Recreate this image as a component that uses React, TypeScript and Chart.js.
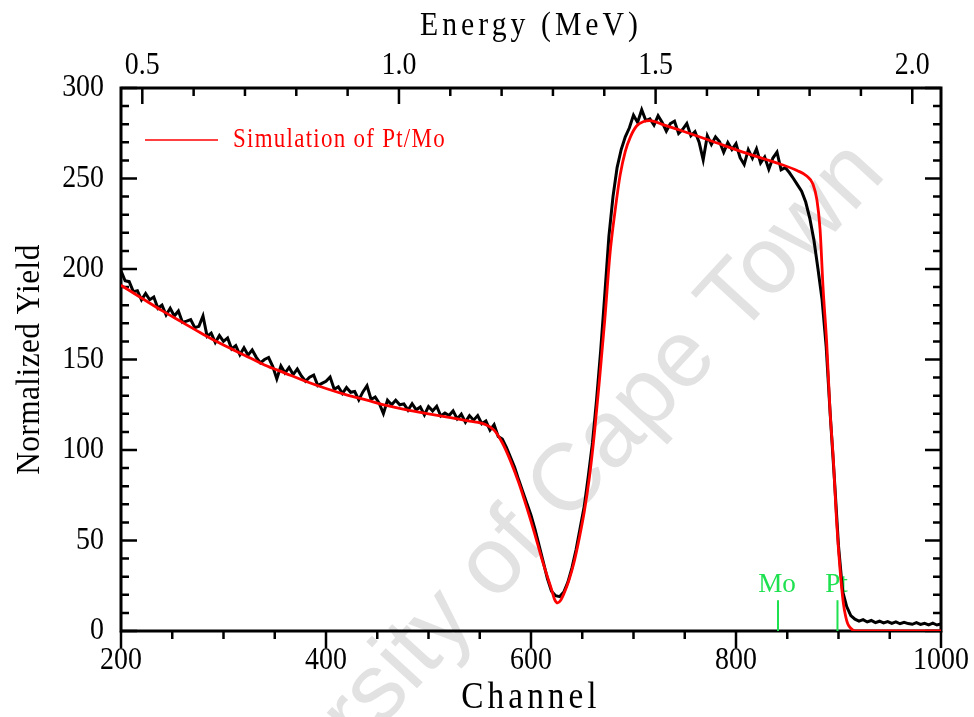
import { useEffect, useRef } from 'react';
import { Chart, registerables } from 'chart.js';

Chart.register(...registerables);

// ---------- data ----------
const channelStart = 200;
const channelStep = 4;
// measured spectrum (black), one value every 4 channels from 200 to 1000
const measuredYield = [
  199, 193.5, 193, 187.5, 188, 183, 186.5, 183, 184.5, 178.3,
  180, 174.6, 178.3, 174, 176.8, 170.5, 171.2, 172, 167.6, 168.3,
  174, 162.8, 164.6, 159.4, 163.2, 160, 161.9, 155.8, 157.7, 152.6,
  156.5, 152.4, 155.3, 151.2, 148.1, 150, 151.1, 146.2, 139.3, 146.4,
  142.5, 145.6, 141.7, 144.8, 140.9, 138, 140.2, 141.4, 135.6, 136.8,
  138, 140.3, 133.6, 134.9, 131.2, 134.5, 131.9, 132.3, 127.7, 132.1,
  135.5, 127.9, 129.3, 125.7, 120.1, 127.5, 125, 127.5, 125, 125.5,
  122, 125.6, 122.2, 123.8, 119.4, 124, 121.6, 124.2, 118.8, 120.4,
  119, 121.6, 117.2, 119.8, 115.4, 119, 116.5, 119, 114.5, 116,
  111, 114, 107.5, 106, 101.5, 96, 90.5, 83.5, 77, 70.5,
  64, 56, 47, 38, 29, 22, 19.5, 19, 21.5, 27,
  35, 45, 57, 69, 86, 104, 128, 155, 186, 218,
  240, 256, 266, 273, 278, 285, 281, 288, 282, 283,
  279.5, 284.7, 281, 276.2, 280.4, 281.7, 274.9, 277.2, 280.4, 273.6,
  275.9, 270.1, 260.3, 273.6, 268.8, 273, 270.3, 264.5, 269.8, 266,
  269.2, 261.5, 257.7, 265.9, 261.2, 266.4, 258.6, 261.9, 255.1, 261.3,
  264.6, 254.8, 256, 253.3, 250, 246.5, 243, 237, 228, 216,
  200, 183, 157, 119, 84, 47, 22, 13.5, 8.5, 6.5,
  5.5, 6.3, 5, 5.8, 4.6, 5.4, 4.5, 5.2, 4.2, 5,
  4, 4.8, 4.1, 3.7, 4.6, 3.6, 4.2, 3.4, 4.3, 3.3,
  3.9,
];

// simulation (red)
const simChannels = [
  200, 220, 240, 260, 280, 300, 320, 340, 360, 380,
  400, 420, 440, 460, 480, 500, 520, 540, 556, 564,
  572, 580, 588, 596, 604, 610, 616, 620, 623, 626,
  629, 632, 637, 642, 647, 652, 657, 662, 667, 672,
  677, 682, 687, 692, 697, 703, 710, 716, 730, 745,
  778, 810, 843, 860, 869, 875, 879, 882, 885, 888.5,
  891.7, 895, 898, 901.5, 904.7, 907, 909, 912, 915, 920,
  1000,
];
const simYield = [
  191, 184, 177, 170.5, 164, 158, 152.5, 147, 142.5, 138,
  134, 130.5, 127.5, 124.5, 122, 120, 118, 116, 114, 111,
  104, 94, 82, 68, 53, 41, 30, 23, 17.5, 15.5,
  17, 20.5, 28, 38, 51, 66, 85, 110, 140, 172,
  208, 232, 252, 265, 273, 279, 281.5, 282, 279.5, 276.8,
  270.3, 264, 258, 254.3, 251.4, 247, 238, 222, 189, 159,
  122, 94.5, 62, 34, 15.5, 8, 4, 1.5, 0.2, 0,
  0,
];

// element edge markers
const markerLabels = ['Mo', 'Pt'];
const markerChannels = [841, 899];
const markerHeights = [17, 17];

// axes
const channelTicks = [200, 250, 300, 350, 400, 450, 500, 550, 600, 650, 700, 750, 800, 850, 900, 950, 1000];
const channelLabelTicks = [200, 400, 600, 800, 1000];
const yieldTicks = [0, 10, 20, 30, 40, 50, 60, 70, 80, 90, 100, 110, 120, 130, 140, 150, 160, 170, 180, 190, 200, 210, 220, 230, 240, 250, 260, 270, 280, 290, 300];
const yieldLabelTicks = [0, 50, 100, 150, 200, 250, 300];
const energyTicks = [0.5, 0.6, 0.7, 0.8, 0.9, 1.0, 1.1, 1.2, 1.3, 1.4, 1.5, 1.6, 1.7, 1.8, 1.9, 2.0];
const energyLabelTicks = [0.5, 1.0, 1.5, 2.0];
const energyAtChannelMin = 0.4585;
const energyAtChannelMax = 2.056;

const SERIF = "'Liberation Serif', 'Times New Roman', serif";
const GREEN = 'rgb(30,225,80)';

// text shape per font size: [horizontal squeeze, letter spacing]
const TEXT_STYLE: Record<number, [number, number]> = {
  31: [0.9, 0],
  33: [0.9, 4.5],
  37: [0.9, 4.5],
  34: [0.92, 0.5],
  27: [0.85, 1.5],
  28: [0.97, 0],
};

function patchContext(ctx: any) {
  if (ctx.__patched) return;
  ctx.__patched = true;
  const orig = CanvasRenderingContext2D.prototype.fillText;
  ctx.fillText = function (text: string, x: number, y: number) {
    const m = /(\d+(?:\.\d+)?)px/.exec(this.font);
    const size = m ? parseFloat(m[1]) : 0;
    const st = TEXT_STYLE[size] || [1, 0];
    this.save();
    this.translate(x, y);
    this.scale(st[0], 1);
    this.letterSpacing = st[1] + 'px';
    orig.call(this, text, 0, 0);
    this.restore();
  };
}

const isMajorEnergy = (v: number) => energyLabelTicks.some((e) => Math.abs(e - v) < 1e-6);

const fixBox = (w: number | null, h: number | null) => (s: any) => {
  if (w !== null) s.width = w;
  if (h !== null) s.height = h;
  s.paddingLeft = 0;
  s.paddingRight = 0;
  s.paddingTop = 0;
  s.paddingBottom = 0;
};

const decorPlugin = {
  id: 'decor',
  beforeDraw(chart: any) {
    const ctx = chart.ctx;
    ctx.save();
    ctx.fillStyle = '#ffffff';
    ctx.fillRect(0, 0, chart.width, chart.height);
    ctx.translate(522, 535);
    ctx.rotate((-47.5 * Math.PI) / 180);
    ctx.font = "95px 'Liberation Sans', Arial, sans-serif";
    ctx.fillStyle = '#e2e2e2';
    ctx.textAlign = 'center';
    ctx.textBaseline = 'middle';
    ctx.fillText('University of Cape Town', 0, 0);
    ctx.restore();
  },
  beforeDatasetsDraw(chart: any) {
    const ctx = chart.ctx;
    const { left, right, top, bottom } = chart.chartArea;
    const xs = chart.scales.x;
    const xe = chart.scales.xEnergy;
    const ys = chart.scales.y;
    ctx.save();
    ctx.strokeStyle = '#000';
    ctx.lineWidth = 2.5;
    ctx.beginPath();
    for (const t of xs.ticks) {
      const px = xs.getPixelForValue(t.value);
      const len = channelLabelTicks.includes(t.value) ? 17 : 8;
      ctx.moveTo(px, bottom);
      ctx.lineTo(px, bottom + len);
    }
    for (const t of xe.ticks) {
      const px = xe.getPixelForValue(t.value);
      const len = isMajorEnergy(t.value) ? 16 : 8;
      ctx.moveTo(px, top);
      ctx.lineTo(px, top + len);
    }
    for (const t of ys.ticks) {
      const py = ys.getPixelForValue(t.value);
      const len = yieldLabelTicks.includes(t.value) ? 16 : 8;
      ctx.moveTo(left, py);
      ctx.lineTo(left + len, py);
      ctx.moveTo(right, py);
      ctx.lineTo(right - len, py);
    }
    ctx.stroke();
    ctx.lineWidth = 3;
    ctx.strokeRect(left, top, right - left, bottom - top);

    // legend
    ctx.strokeStyle = '#ff0000';
    ctx.lineWidth = 1.5;
    ctx.beginPath();
    ctx.moveTo(left + 24, top + 52);
    ctx.lineTo(left + 97, top + 52);
    ctx.stroke();
    ctx.fillStyle = '#ff0000';
    ctx.font = `27px ${SERIF}`;
    ctx.textAlign = 'left';
    ctx.textBaseline = 'alphabetic';
    ctx.fillText('Simulation of Pt/Mo', left + 112, top + 59);

    // marker labels
    ctx.fillStyle = GREEN;
    ctx.font = `28px ${SERIF}`;
    ctx.textAlign = 'center';
    markerLabels.forEach((name, i) => {
      const px = xs.getPixelForValue(markerChannels[i]);
      ctx.fillText(name, px - 1, ys.getPixelForValue(0) - 39);
    });
    ctx.restore();
  },
};

export default function App() {
  const ref = useRef<HTMLCanvasElement | null>(null);

  useEffect(() => {
    const canvas = ref.current;
    if (!canvas) return;
    const ctx = canvas.getContext('2d');
    patchContext(ctx);

    const measured = measuredYield.map((v, i) => ({ x: channelStart + i * channelStep, y: v }));
    const sim = simChannels.map((c, i) => ({ x: c, y: simYield[i] }));
    const markerSets = markerChannels.map((c, i) => ({
      label: markerLabels[i],
      data: [{ x: c, y: 0 }, { x: c, y: markerHeights[i] }],
      borderColor: GREEN,
      borderWidth: 2,
      pointRadius: 0,
      order: 2,
    }));

    const tickFont = { family: SERIF, size: 31 };

    const chart = new Chart(canvas, {
      type: 'line',
      data: {
        datasets: [
          {
            label: 'Simulation of Pt/Mo',
            data: sim,
            borderColor: '#ff0000',
            borderWidth: 2.8,
            pointRadius: 0,
            cubicInterpolationMode: 'monotone',
            order: 0,
          },
          {
            label: 'Measured',
            data: measured,
            borderColor: '#000000',
            borderWidth: 3,
            pointRadius: 0,
            tension: 0,
            order: 1,
          },
          ...markerSets,
        ],
      },
      options: {
        animation: false,
        responsive: false,
        devicePixelRatio: 1,
        parsing: false,
        layout: { padding: 0 },
        plugins: { legend: { display: false }, tooltip: { enabled: false } },
        scales: {
          x: {
            type: 'linear',
            position: 'bottom',
            min: 200,
            max: 1000,
            afterBuildTicks: (s: any) => {
              s.ticks = channelTicks.map((v) => ({ value: v }));
            },
            afterFit: fixBox(null, 86),
            grid: { display: false, drawTicks: false },
            border: { display: false },
            ticks: {
              autoSkip: false,
              maxRotation: 0,
              minRotation: 0,
              padding: 11,
              color: '#000',
              font: tickFont,
              callback: (v: any) => (channelLabelTicks.includes(v) ? String(v) : ''),
            },
            title: {
              display: true,
              text: 'Channel',
              color: '#000',
              font: { family: SERIF, size: 37, lineHeight: 1 },
              padding: { top: 1, bottom: 0 },
            },
          },
          xEnergy: {
            type: 'linear',
            position: 'top',
            min: energyAtChannelMin,
            max: energyAtChannelMax,
            afterBuildTicks: (s: any) => {
              s.ticks = energyTicks.map((v) => ({ value: v }));
            },
            afterFit: fixBox(null, 88),
            grid: { display: false, drawTicks: false },
            border: { display: false },
            ticks: {
              autoSkip: false,
              maxRotation: 0,
              minRotation: 0,
              padding: 4,
              color: '#000',
              font: tickFont,
              callback: (v: any) => (isMajorEnergy(v) ? Number(v).toFixed(1) : ''),
            },
            title: {
              display: true,
              text: 'Energy (MeV)',
              color: '#000',
              font: { family: SERIF, size: 33, lineHeight: 1 },
              padding: { top: 9.5, bottom: 0 },
            },
          },
          y: {
            type: 'linear',
            position: 'left',
            min: 0,
            max: 300,
            afterBuildTicks: (s: any) => {
              s.ticks = yieldTicks.map((v) => ({ value: v }));
            },
            afterFit: fixBox(121, null),
            grid: { display: false, drawTicks: false },
            border: { display: false },
            ticks: {
              autoSkip: false,
              padding: 17,
              color: '#000',
              font: tickFont,
              callback: (v: any) => (yieldLabelTicks.includes(v) ? String(v) : ''),
            },
            title: {
              display: true,
              text: 'Normalized Yield',
              color: '#000',
              font: { family: SERIF, size: 34, lineHeight: 1 },
              padding: { top: 13, bottom: 0 },
            },
          },
          yRight: {
            type: 'linear',
            position: 'right',
            min: 0,
            max: 300,
            afterFit: fixBox(33, null),
            grid: { display: false, drawTicks: false },
            border: { display: false },
            ticks: { display: false },
          },
        },
      } as any,
      plugins: [decorPlugin],
    } as any);

    return () => {
      chart.destroy();
    };
  }, []);

  return (
    <div style={{ position: 'absolute', left: 0, top: 0, width: 974, height: 717, background: '#fff' }}>
      <canvas ref={ref} width={974} height={717} style={{ display: 'block' }} />
    </div>
  );
}
